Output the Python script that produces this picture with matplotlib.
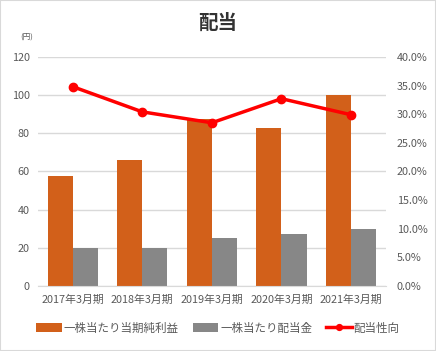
import numpy as np
import matplotlib.pyplot as plt
from matplotlib.ticker import PercentFormatter
from matplotlib.patches import Rectangle

plt.rcParams['font.family'] = ['Noto Sans CJK JP', 'DejaVu Sans']

periods = ['2017年3月期', '2018年3月期', '2019年3月期', '2020年3月期', '2021年3月期']
eps = [57.5, 65.8, 87.6, 82.5, 100.2]
dps = [20, 20, 25, 27, 30]
payout = [34.8, 30.4, 28.5, 32.7, 29.9]

orange = '#D2601A'
gray = '#878787'
tcol = '#595959'

fig = plt.figure(figsize=(4.36, 3.51), dpi=100)
fig.patches.append(Rectangle((0, 0), 1, 1, transform=fig.transFigure,
                             fill=False, edgecolor='#d9d9d9', lw=1.5))
ax = fig.add_axes([0.087, 0.185, 0.798, 0.653])
x = np.arange(len(periods))
w = 0.36
ax.bar(x - w / 2, eps, w, color=orange, label='一株当たり当期純利益', zorder=2)
ax.bar(x + w / 2, dps, w, color=gray, label='一株当たり配当金', zorder=2)
ax.set_ylim(0, 120)
ax.set_yticks(range(0, 121, 20))
ax.set_xlim(-0.5, len(periods) - 0.5)
ax.set_xticks(x)
ax.set_xticklabels(periods)
ax.grid(axis='y', color='#d9d9d9', lw=1, zorder=0)
for s in ax.spines.values():
    s.set_visible(False)
ax.spines['bottom'].set_visible(True)
ax.spines['bottom'].set_color('#d9d9d9')
ax.tick_params(length=0, labelsize=7.8, colors=tcol, pad=6)

ax2 = ax.twinx()
ax2.plot(x, payout, color='#FF0000', lw=2.5, marker='o', ms=6, label='配当性向', zorder=3)
ax2.set_ylim(0, 40)
ax2.set_yticks(range(0, 41, 5))
ax2.yaxis.set_major_formatter(PercentFormatter(decimals=1))
for s in ax2.spines.values():
    s.set_visible(False)
ax2.tick_params(length=0, labelsize=7.8, colors=tcol, pad=8)

fig.text(0.5, 0.935, '配当', ha='center', va='center', fontsize=14, fontweight='bold', color='#333333')
fig.text(0.046, 0.892, '(円)', ha='left', va='center', fontsize=5.5, color=tcol)

h1, l1 = ax.get_legend_handles_labels()
h2, l2 = ax2.get_legend_handles_labels()
fig.legend(h1 + h2, l1 + l2, loc='center', bbox_to_anchor=(0.5, 0.065), ncol=3,
           frameon=False, fontsize=8.3, labelcolor=tcol, handlelength=2.2,
           handleheight=0.9, columnspacing=1.2, handletextpad=0.2, markerscale=0.7)

fig.savefig('out.png', dpi=100)
